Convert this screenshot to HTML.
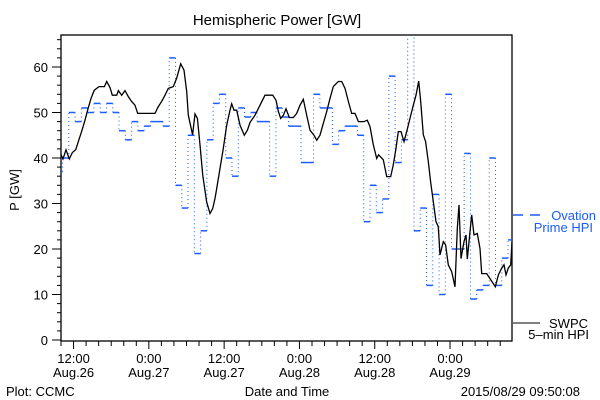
<!DOCTYPE html>
<html><head><meta charset="utf-8"><style>
html,body{margin:0;padding:0;background:#fff;}
svg{display:block;font-family:"Liberation Sans",sans-serif;}
</style></head><body>
<svg id="chart" width="600" height="400" viewBox="0 0 600 400" xmlns="http://www.w3.org/2000/svg">
<rect width="600" height="400" fill="#fff"/>
<text x="277" y="25" text-anchor="middle" font-size="15">Hemispheric Power [GW]</text>
<text transform="translate(19,190) rotate(-90)" text-anchor="middle" font-size="13">P [GW]</text>
<text x="287" y="396" text-anchor="middle" font-size="13">Date and Time</text>
<text x="6" y="396" font-size="13">Plot: CCMC</text>
<text x="580" y="396" text-anchor="end" font-size="13">2015/08/29 09:50:08</text>
<g id="axes"></g>
<g id="series"></g>
<g>
 <line x1="513" y1="215" x2="523" y2="215" stroke="#1a5cff" stroke-width="1.5"/>
 <line x1="530" y1="215" x2="540" y2="215" stroke="#1a5cff" stroke-width="1.5"/>
 <text x="596" y="220" text-anchor="end" font-size="13" fill="#1a5cff">Ovation</text>
 <text x="593" y="232" text-anchor="end" font-size="13" fill="#1a5cff">Prime HPI</text>
 <line x1="513" y1="323" x2="540" y2="323" stroke="#000" stroke-width="1"/>
 <text x="588" y="328" text-anchor="end" font-size="13">SWPC</text>
 <text x="589" y="339" text-anchor="end" font-size="13">5–min HPI</text>
</g>
</svg>
<script>
// hours since Aug 26 00:00
const ovationStart = 9.25;
const ovationValues = [37,40,50,48,51,50,52,50,52,50,46,44,48,46,47,48,48,47,62,34,29,45,19,24,44,52,54,40,36,51,49,50,48,48,36,51,49,47,47,39,39,54,51,51,43,46,47,47,45,26,34,28,31,58,39,44,70,24,29,12,32,10,54,20,20,41,9,11,12,40,12,18,22];
const swpcTimes = [9.84,10.32,10.8,11.33,11.81,12.34,12.81,13.29,13.82,14.3,14.78,15.31,16.06,16.91,17.28,17.81,18.18,18.87,19.14,19.67,20.2,20.73,21.26,21.79,22.22,24.98,25.51,26.04,26.57,27.1,27.9,28.43,29.07,29.6,30.03,30.29,30.98,31.35,31.73,32.15,32.58,33.21,33.74,34.17,34.54,34.81,35.34,35.87,36.41,36.94,37.2,37.57,38.0,38.53,39.22,39.7,40.12,40.92,41.72,42.51,43.74,44.27,44.64,45.01,45.44,45.86,46.39,47.03,47.56,48.09,48.62,49.15,49.69,50.32,50.75,51.28,51.81,52.34,52.87,53.4,54.2,54.73,55.26,55.8,56.33,56.86,57.39,58.29,58.82,59.24,59.77,60.31,60.62,61.37,61.9,62.54,62.96,63.39,63.76,64.18,64.66,65.09,65.62,66.15,66.57,67.0,67.32,67.74,68.11,68.54,68.91,69.34,69.76,70.13,70.4,70.93,71.3,71.73,72.26,72.79,73.16,73.43,73.75,74.22,74.54,74.75,75.18,75.45,75.82,76.35,76.77,77.04,77.84,78.37,78.9,79.22,79.7,80.23,80.6,80.92,81.29,81.66,81.87];
const swpcValues = [41.2,39.8,41.8,39.8,41.2,41.8,43.8,45.8,48.3,50.8,53.1,54.9,55.7,55.7,56.8,55.5,53.8,53.8,54.8,53.8,54.8,53.5,52.4,51.6,49.8,49.8,51.3,52.4,53.8,55.3,55.7,57.5,60.7,59.3,54.6,49.4,45.1,49.7,48.7,42.9,36.3,30.4,27.8,28.9,31.1,33.3,37.7,42.1,47.2,50.5,51.9,50.5,50.5,47.2,45.0,46.1,47.8,49.4,51.6,53.8,53.8,52.7,50.2,48.7,49.4,50.8,48.9,48.9,49.8,51.6,52.9,49.4,46.1,45.0,43.9,45.0,47.6,50.2,53.1,55.7,56.8,56.8,55.3,52.4,49.8,49.8,48.0,48.0,48.3,46.9,42.9,39.9,40.7,39.6,35.9,35.9,38.5,42.1,45.8,45.8,43.6,45.8,48.7,51.6,53.8,56.9,52.4,45.1,43.6,39.2,34.8,30.4,26.0,24.9,18.7,21.6,20.9,16.5,15.0,11.7,24.5,29.7,17.9,21.6,23.1,17.8,23.8,27.5,23.1,23.4,20.1,14.6,14.6,13.5,12.4,11.7,14.3,15.8,16.5,14.3,15.8,16.5,21.6];
const yTickValues = [0,10,20,30,40,50,60];
const xTickHours = [12,24,36,48,60,72];
const xTickTimes = ["12:00","0:00","12:00","0:00","12:00","0:00"];
const xTickDates = ["Aug.26","Aug.27","Aug.27","Aug.28","Aug.28","Aug.29"];

const L=61,R=512,T=35,B=341,tMin=10,tMax=81.875,vMax=67.03;
const X=t=>L+(t-tMin)*(R-L)/(tMax-tMin);
const Y=v=>340-v*(340-T)/vMax;
const NS="http://www.w3.org/2000/svg";
function mk(tag,attrs,parent){const e=document.createElementNS(NS,tag);for(const k in attrs)e.setAttribute(k,attrs[k]);parent.appendChild(e);return e;}
const axes=document.getElementById('axes'), series=document.getElementById('series');

const frame=mk('rect',{x:L,y:T,width:R-L,height:B-T,fill:'none',stroke:'#000','stroke-width':1.3},axes);


for(let v=0;v<=66;v+=2){const major=v%10===0;
 const tk=mk('line',{x1:major?52:57,y1:Y(v),x2:L,y2:Y(v),stroke:'#000'},axes);
 
 }
yTickValues.forEach(v=>{const tx=mk('text',{x:48,y:Y(v)+5,'text-anchor':'end','font-size':13},axes);tx.textContent=v;
 
 });
for(let h=10;h<=81;h+=2){const major=(h%12===0);
 const tk=mk('line',{x1:X(h),y1:B,x2:X(h),y2:B+(major?8:5),stroke:'#000'},axes);
 
 }
xTickHours.forEach((h,i)=>{
 const a=mk('text',{x:X(h),y:363,'text-anchor':'middle','font-size':13},axes);a.textContent=xTickTimes[i];
 
 
 const b=mk('text',{x:X(h),y:377,'text-anchor':'middle','font-size':13},axes);b.textContent=xTickDates[i];
 
 });

const clip=mk('clipPath',{id:'pc'},series);mk('rect',{x:L,y:T,width:R-L,height:B-T},clip);
const og=mk('g',{'clip-path':'url(#pc)'},series);


ovationValues.forEach((v,i)=>{
 const t0=ovationStart+i,t1=t0+1;
 const h=mk('line',{x1:X(t0),y1:Y(v),x2:X(t1),y2:Y(v),stroke:'#1a5cff','stroke-width':1.5},og);
 
 
 if(i>0){const p=ovationValues[i-1];
  const vl=mk('line',{x1:X(t0),y1:Y(p),x2:X(t0),y2:Y(v),stroke:'#1a5cff','stroke-width':1,'stroke-dasharray':'1,3'},og);
  
  }
});
const sg=mk('g',{'clip-path':'url(#pc)'},series);
const pl=mk('polyline',{points:swpcTimes.map((t,i)=>X(t).toFixed(1)+','+Y(swpcValues[i]).toFixed(1)).join(' '),fill:'none',stroke:'#000','stroke-width':1.3},sg);


</script>
</body></html>
